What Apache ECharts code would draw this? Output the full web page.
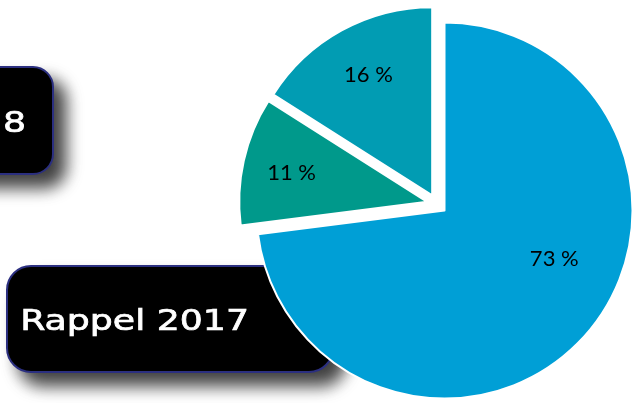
<!DOCTYPE html>
<html>
<head>
<meta charset="utf-8">
<script src="https://cdn.jsdelivr.net/npm/echarts@6/dist/echarts.min.js"></script>
<style>
  html, body { margin: 0; padding: 0; background: #fff; }
  #chart { width: 639px; height: 403px; }
</style>
</head>
<body>
<div id="chart"></div>
<script>
// DONNEES
var categories = ["Groupe A", "Groupe B", "Groupe C"];
var percentValues = [73, 11, 16];
var sliceColors = ["#009fd6", "#00998b", "#019cb3"];
var boxLabels = ["2018", "Rappel 2017"];

// label tweaks so the text sits where it does in the original
var labelOffsets = [[37, -16], [-41, -8], [-17, -35]];

var chart = echarts.init(document.getElementById("chart"));

// boites noires a gauche
function makeBox(x, y, w, h, r, text, textRight, textY) {
  return [
    {
      type: "rect",
      z: 0,
      shape: { x: x, y: y, width: w, height: h, r: r },
      style: {
        fill: "#000",
        stroke: "#2b2f80",
        lineWidth: 2,
        shadowColor: "rgba(0,0,0,0.75)",
        shadowBlur: 16,
        shadowOffsetX: 12,
        shadowOffsetY: 13,
      },
    },
    {
      type: "text",
      z: 1,
      x: textRight,
      y: textY,
      scaleX: 1.25,
      style: {
        text: text,
        fill: "#fff",
        stroke: "#fff",
        lineWidth: 0.7,
        font: "29px 'DejaVu Sans'",
        textAlign: "right",
        textVerticalAlign: "middle",
      },
    },
  ];
}

chart.setOption({
  graphic: {
    elements: []
      .concat(makeBox(-60, 67, 113, 107, 20, boxLabels[0], 26, 124))
      .concat(makeBox(7, 266, 326, 106, 24, boxLabels[1], 249, 322)),
  },
  series: [
    {
      type: "pie",
      z: 5,
      center: [437, 204],
      radius: 188,
      startAngle: 90,
      clockwise: true,
      selectedMode: "multiple",
      selectedOffset: 10,
      animation: false,
      emphasis: { disabled: true },
      itemStyle: { borderColor: "#fff", borderWidth: 2 },
      label: {
        show: true,
        position: "inside",
        formatter: "{c} %",
        color: "#000",
        fontFamily: "Lato",
        fontSize: 22,
      },
      labelLine: { show: false },
      labelLayout: function (params) {
        var off = labelOffsets[params.dataIndex];
        return { dx: off[0], dy: off[1] };
      },
      data: categories.map(function (name, i) {
        return {
          name: name,
          value: percentValues[i],
          selected: true,
          itemStyle: { color: sliceColors[i] },
        };
      }),
    },
  ],
});
</script>
</body>
</html>
